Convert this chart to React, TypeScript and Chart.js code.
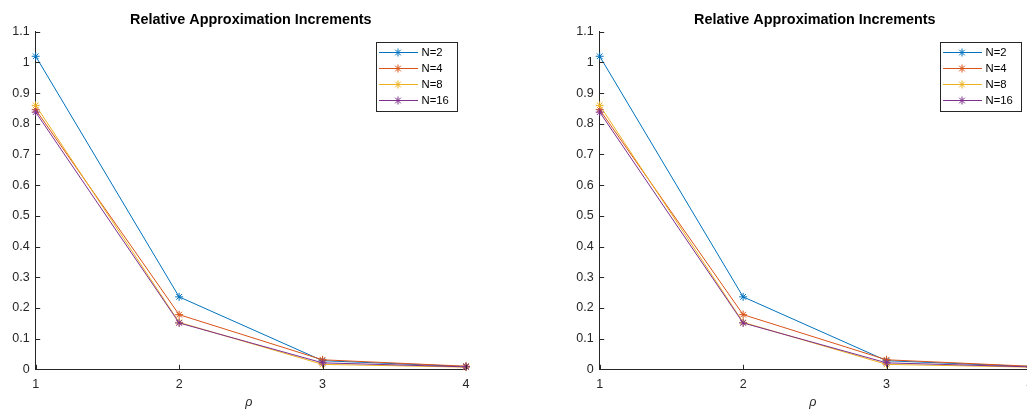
import React, { useEffect, useRef } from "react";
import { Chart, registerables } from "chart.js";

Chart.register(...registerables);

const rho = [1, 2, 3, 4];
const seriesLabels = ["N=2", "N=4", "N=8", "N=16"];
const seriesN2 = [1.02, 0.236, 0.028, 0.009];
const seriesN4 = [0.846, 0.178, 0.031, 0.01];
const seriesN8 = [0.86, 0.153, 0.016, 0.007];
const seriesN16 = [0.838, 0.151, 0.021, 0.008];
const seriesValues = [seriesN2, seriesN4, seriesN8, seriesN16];
const seriesColors = ["#0072BD", "#D95319", "#EDB120", "#7E2F8E"];
const xTicks = [1, 2, 3, 4];
const yTicks = [0, 0.1, 0.2, 0.3, 0.4, 0.5, 0.6, 0.7, 0.8, 0.9, 1, 1.1];
const titleText = "Relative Approximation Increments";
const xLabel = "ρ";

const AXIS = "#262626";
const FONT = "'Liberation Sans', Arial, Helvetica, sans-serif";
const TICK_SIZE = 12.5;

const decorPlugin = {
  id: "matlabDecor",
  afterDraw(chart: any) {
    const { ctx, chartArea } = chart;
    const xs = chart.scales.x;
    const ys = chart.scales.y;
    ctx.save();
    // inward ticks
    ctx.strokeStyle = AXIS;
    ctx.lineWidth = 1;
    ctx.beginPath();
    for (const v of yTicks) {
      const py = Math.round(ys.getPixelForValue(v)) + 0.5;
      ctx.moveTo(chartArea.left, py);
      ctx.lineTo(chartArea.left + 4.5, py);
    }
    for (const v of xTicks) {
      const px = Math.round(xs.getPixelForValue(v)) + 0.5;
      ctx.moveTo(px, chartArea.bottom);
      ctx.lineTo(px, chartArea.bottom - 4.5);
    }
    ctx.stroke();

    // title
    const cx = (chartArea.left + chartArea.right) / 2;
    ctx.fillStyle = "#000";
    ctx.font = `bold 14.4px ${FONT}`;
    ctx.textAlign = "center";
    ctx.textBaseline = "middle";
    ctx.fillText(titleText, cx, 20.3);

    // x label
    ctx.fillStyle = AXIS;
    ctx.font = `italic ${TICK_SIZE}px ${FONT}`;
    ctx.fillText(xLabel, cx - 2, 403);

    // legend
    const boxW = 80.5;
    const boxRight = chartArea.right - 10;
    const boxLeft = boxRight - boxW;
    const boxTop = chartArea.top + 10;
    const boxH = 68.5;
    ctx.fillStyle = "#fff";
    ctx.fillRect(boxLeft, boxTop, boxW, boxH);
    ctx.strokeStyle = AXIS;
    ctx.lineWidth = 1;
    ctx.strokeRect(Math.round(boxLeft) + 0.5, Math.round(boxTop) + 0.5, Math.round(boxW), Math.round(boxH));
    ctx.font = `11.3px ${FONT}`;
    ctx.textAlign = "left";
    chart.data.datasets.forEach((ds: any, i: number) => {
      const y = Math.round(boxTop + 10 + i * 16.1) + 0.5;
      const x0 = boxLeft + 3.5;
      const x1 = boxLeft + 42.5;
      ctx.strokeStyle = ds.borderColor;
      ctx.lineWidth = 1;
      ctx.beginPath();
      ctx.moveTo(x0, y);
      ctx.lineTo(x1, y);
      ctx.stroke();
      const mx = boxLeft + 22.5;
      const r = 4;
      ctx.beginPath();
      ctx.moveTo(mx - r, y);
      ctx.lineTo(mx + r, y);
      ctx.moveTo(mx, y - r);
      ctx.lineTo(mx, y + r);
      const d = r * 0.7071;
      ctx.moveTo(mx - d, y - d);
      ctx.lineTo(mx + d, y + d);
      ctx.moveTo(mx - d, y + d);
      ctx.lineTo(mx + d, y - d);
      ctx.stroke();
      ctx.fillStyle = "#000";
      ctx.fillText(ds.label, boxLeft + 46, y + 0.5);
    });
    ctx.restore();
  },
};

function Plot({ left }: { left: number }) {
  const ref = useRef<HTMLCanvasElement | null>(null);
  useEffect(() => {
    if (!ref.current) return;
    const chart = new Chart(ref.current, {
      type: "line",
      data: {
        datasets: seriesValues.map((vals, i) => ({
          label: seriesLabels[i],
          data: rho.map((x, j) => ({ x, y: vals[j] })),
          borderColor: seriesColors[i],
          backgroundColor: seriesColors[i],
          borderWidth: 1,
          pointStyle: "star",
          pointRadius: 4,
          pointBorderWidth: 1,
          pointBorderColor: seriesColors[i],
          fill: false,
          tension: 0,
          clip: false as any,
          order: seriesValues.length - i,
        })),
      },
      options: {
        animation: false,
        responsive: false,
        events: [],
        layout: { padding: { top: 31.7, right: 54, left: 0, bottom: 0 } },
        plugins: {
          legend: { display: false },
          title: { display: false },
          tooltip: { enabled: false },
        },
        scales: {
          x: {
            type: "linear",
            min: 1,
            max: 4,
            afterFit: (s: any) => {
              s.height = 42.7;
            },
            afterBuildTicks: (s: any) => {
              s.ticks = xTicks.map((v) => ({ value: v }));
            },
            grid: { display: false, drawTicks: false, tickLength: 0 },
            border: { display: true, color: AXIS, width: 1 },
            ticks: {
              color: AXIS,
              font: { family: FONT, size: TICK_SIZE },
              padding: 7.5,
              maxRotation: 0,
              autoSkip: false,
              callback: (v: any) => String(v),
            },
          },
          y: {
            type: "linear",
            min: 0,
            max: 1.1,
            afterFit: (s: any) => {
              s.width = 35.7;
            },
            afterBuildTicks: (s: any) => {
              s.ticks = yTicks.map((v) => ({ value: v }));
            },
            grid: { display: false, drawTicks: false, tickLength: 0 },
            border: { display: true, color: AXIS, width: 1 },
            ticks: {
              color: AXIS,
              font: { family: FONT, size: TICK_SIZE },
              padding: 6,
              autoSkip: false,
              callback: (v: any) => String(Number(Number(v).toFixed(1))),
            },
          },
        },
      },
      plugins: [decorPlugin],
    });
    return () => chart.destroy();
  }, []);
  return (
    <canvas
      ref={ref}
      width={520}
      height={412}
      style={{ position: "absolute", left, top: 0, width: 520, height: 412 }}
    />
  );
}

export default function App() {
  return (
    <div
      style={{
        position: "absolute",
        left: 0,
        top: 0,
        width: 1027,
        height: 412,
        overflow: "hidden",
        background: "#fff",
      }}
    >
      <Plot left={0} />
      <Plot left={563.6} />
    </div>
  );
}
